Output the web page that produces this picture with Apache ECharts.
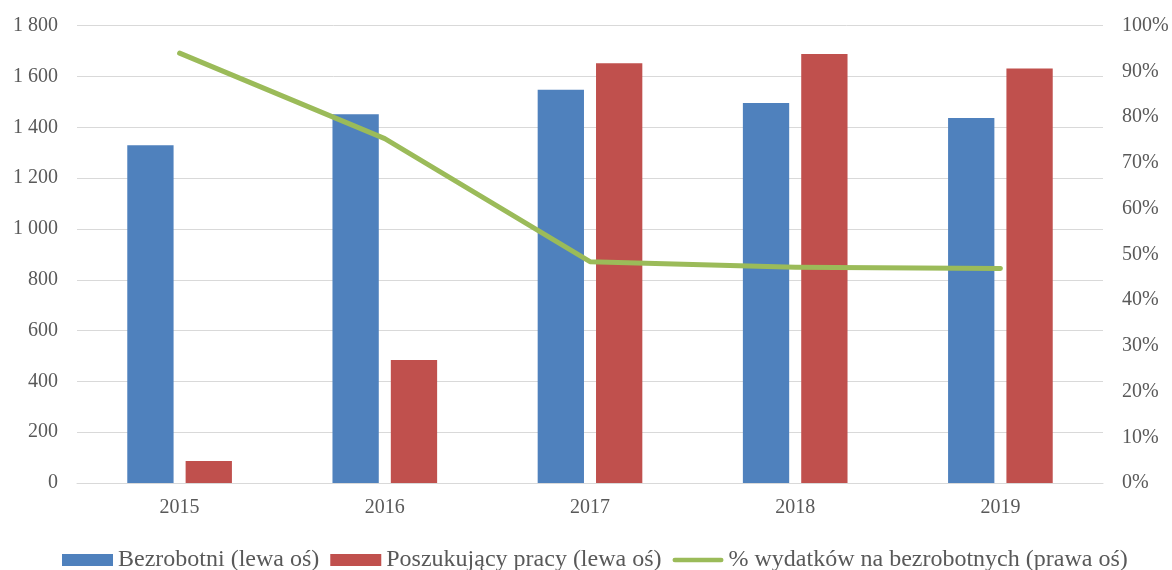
<!DOCTYPE html>
<html>
<head>
<meta charset="utf-8">
<script src="https://cdn.jsdelivr.net/npm/echarts@6/dist/echarts.min.js"></script>
<style>
  html, body { margin: 0; padding: 0; background: #fff; }
  #chart { width: 1172px; height: 570px; }
</style>
</head>
<body>
<div id="chart"></div>
<script>
// Lata
const years = ['2015', '2016', '2017', '2018', '2019'];
// Liczba bezrobotnych (lewa oś)
const bezrobotni = [1329, 1451, 1548, 1496, 1437];
// Liczba poszukujących pracy (lewa oś)
const poszukujacy = [87, 484, 1652, 1689, 1632];
// Udział wydatków na bezrobotnych, % (prawa oś)
const wydatkiPct = [94.0, 75.3, 48.4, 47.2, 46.9];

const seriesNames = [
  'Bezrobotni (lewa oś)',
  'Poszukujący pracy (lewa oś)',
  '% wydatków na bezrobotnych (prawa oś)'
];

const FONT = "'Liberation Serif', 'Times New Roman', serif";
const TEXT = '#595959';
const GRID = '#D9D9D9';

const fmtThousands = v => String(v).replace(/\B(?=(\d{3})+(?!\d))/g, ' ');

const chart = echarts.init(document.getElementById('chart'), null, { renderer: 'canvas' });

chart.setOption({
  animation: false,
  backgroundColor: '#ffffff',
  textStyle: { fontFamily: FONT },
  grid: { left: 77, right: 69, top: 25.7, bottom: 87, containLabel: false },
  legend: {
    top: 547,
    left: 62,
    padding: 0,
    itemGap: 11,
    itemWidth: 51,
    itemHeight: 12,
    textStyle: { fontFamily: FONT, fontSize: 24, color: TEXT, lineHeight: 26 },
    data: [
      { name: seriesNames[0], icon: 'rect' },
      { name: seriesNames[1], icon: 'rect' },
      { name: seriesNames[2], icon: 'path://M2.5,0 L52.5,0 A2.5,2.5 0 0 1 52.5,5 L2.5,5 A2.5,2.5 0 0 1 2.5,0 Z' }
    ]
  },
  xAxis: {
    type: 'category',
    data: years,
    axisLine: { show: true, lineStyle: { color: GRID, width: 1 } },
    axisTick: { show: false },
    axisLabel: { color: TEXT, fontFamily: FONT, fontSize: 20, margin: 15 }
  },
  yAxis: [
    {
      type: 'value',
      min: 0, max: 1800, interval: 200,
      axisLine: { show: false },
      axisTick: { show: false },
      splitLine: { lineStyle: { color: GRID, width: 1 } },
      axisLabel: { color: TEXT, fontFamily: FONT, fontSize: 20, margin: 19, formatter: fmtThousands }
    },
    {
      type: 'value',
      min: 0, max: 100, interval: 10,
      axisLine: { show: false },
      axisTick: { show: false },
      splitLine: { show: false },
      axisLabel: { color: TEXT, fontFamily: FONT, fontSize: 20, margin: 19, formatter: '{value}%' }
    }
  ],
  series: [
    {
      name: seriesNames[0],
      type: 'bar',
      yAxisIndex: 0,
      data: bezrobotni,
      barGap: '26%',
      barCategoryGap: '49%',
      itemStyle: { color: '#4F81BD' }
    },
    {
      name: seriesNames[1],
      type: 'bar',
      yAxisIndex: 0,
      data: poszukujacy,
      barGap: '26%',
      barCategoryGap: '49%',
      itemStyle: { color: '#C0504D' }
    },
    {
      name: seriesNames[2],
      type: 'line',
      yAxisIndex: 1,
      data: wydatkiPct,
      symbol: 'none',
      smooth: false,
      lineStyle: { color: '#9BBB59', width: 5, cap: 'round', join: 'round' },
      itemStyle: { color: '#9BBB59' },
      z: 5
    }
  ]
});
</script>
</body>
</html>
